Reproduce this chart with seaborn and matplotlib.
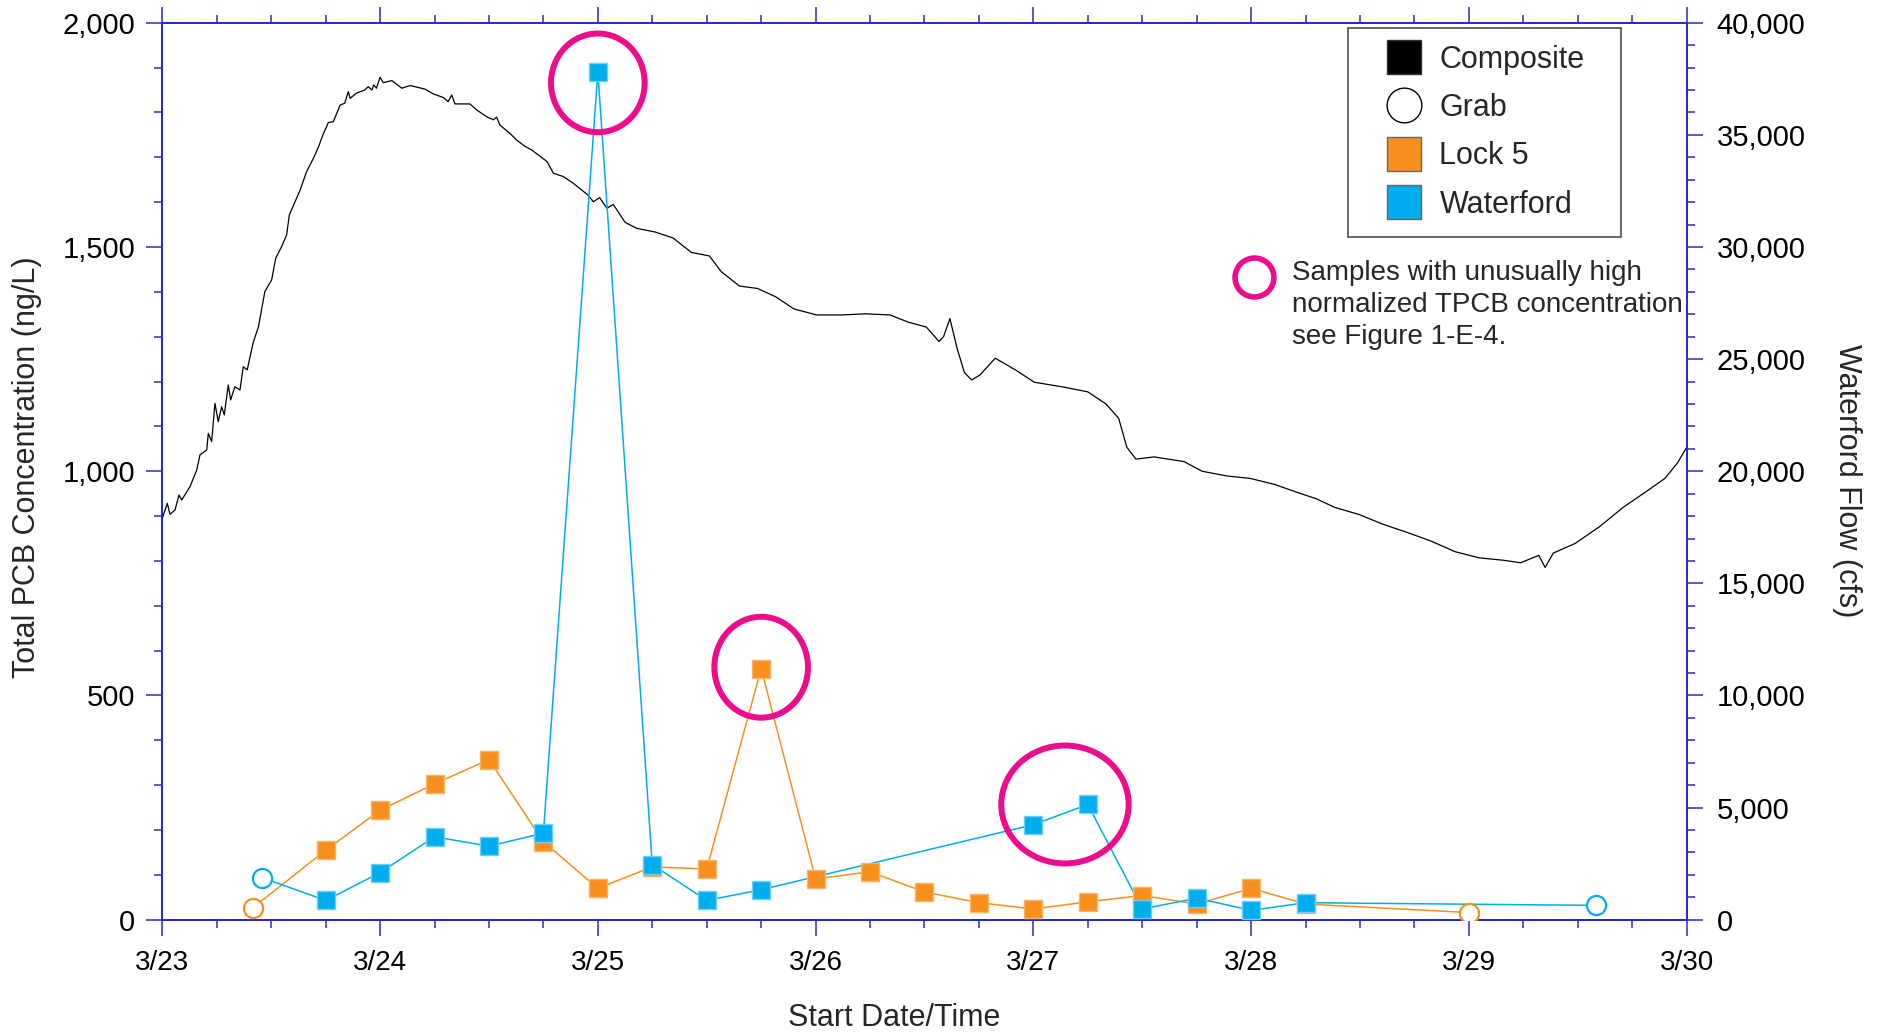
import numpy as np
import pandas as pd
import matplotlib
matplotlib.use("Agg")
import matplotlib.pyplot as plt
import matplotlib.dates as mdates
from matplotlib.patches import Ellipse
from matplotlib.lines import Line2D
from matplotlib.ticker import MultipleLocator, StrMethodFormatter, FuncFormatter
import seaborn as sns

# ---------------- data ----------------
flow_hours = [0.0, 0.55, 0.85, 1.4, 1.84, 2.14, 3.05, 3.8, 4.15, 4.9, 5.07, 5.44, 5.8, 6.17,
              6.54, 6.83, 7.27, 7.53, 8.0, 8.56, 8.92, 9.36, 10.0, 10.6, 11.3, 12.05, 12.5,
              13.15, 13.7, 14.0, 14.4, 15.2, 15.9, 16.66, 17.2, 17.7, 18.3, 18.85, 19.6,
              20.1, 20.5, 20.7, 21.4, 22.3, 22.7, 23.1, 23.3, 23.6, 24.0, 24.35, 25.3, 26.4,
              27.3, 27.85, 28.95, 29.85, 31.0, 31.5, 31.9, 32.25, 33.9, 34.65, 35.75, 36.5,
              36.85, 37.2, 38.3, 39.05, 40.0, 40.7, 42.4, 43.1, 44.2, 45.3, 46.9, 47.5, 48.2,
              49.0, 49.7, 51.0, 52.3, 54.3, 56.3, 58.3, 60.3, 61.6, 63.6, 65.6, 67.6, 69.6,
              72.1, 74.9, 77.5, 80.2, 82.2, 84.2, 85.6, 86.1, 86.8, 87.6, 88.4, 89.2, 90.1,
              91.8, 94.1, 96.1, 99.4, 102.0, 104.0, 105.4, 106.3, 107.3, 109.3, 112.6, 114.6,
              117.3, 119.9, 122.6, 125.2, 127.2, 129.2, 131.9, 134.5, 137.2, 139.8, 142.5,
              145.1, 147.8, 149.7, 151.7, 152.4, 153.3, 155.7, 158.4, 161.0, 163.7, 165.6,
              167.0, 168.0]
flow_cfs = [17900, 18570, 18080, 18270, 18940, 18720, 19310, 20060, 20730, 20950, 21690, 21320,
            23030, 22210, 22880, 22510, 23850, 23180, 23770, 23620, 24660, 24520, 25710, 26450,
            28010, 28530, 29500, 30020, 30540, 31430, 31800, 32550, 33360, 33960, 34450, 35000,
            35550, 35590, 36330, 36410, 36930, 36630, 36860, 37000, 37150, 37000, 37230, 37080,
            37570, 37330, 37420, 37080, 37200, 37150, 37040, 36830, 36660, 36480, 36780, 36380,
            36380, 36110, 35810, 35670, 35790, 35440, 35070, 34770, 34480, 34330, 33810, 33290,
            33140, 32840, 32320, 32020, 32200, 31730, 31900, 31100, 30830, 30670, 30400, 29760,
            29600, 28900, 28260, 28150, 27780, 27240, 26970, 26970, 27020, 26970, 26650, 26430,
            25790, 26000, 26810, 25470, 24400, 24070, 24290, 25040, 24500, 23970, 23750, 23540,
            23000, 22360, 21070, 20540, 20640, 20430, 20000, 19790, 19680, 19410, 19040, 18770,
            18390, 18070, 17640, 17270, 16890, 16410, 16140, 16030, 15920, 16250, 15710, 16350,
            16780, 17530, 18390, 19140, 19680, 20380, 21070]

lock5_time = ["2009-03-23 10:00", "2009-03-23 18:00", "2009-03-24 00:00", "2009-03-24 06:00",
              "2009-03-24 12:00", "2009-03-24 18:00", "2009-03-25 00:00", "2009-03-25 06:00",
              "2009-03-25 12:00", "2009-03-25 18:00", "2009-03-26 00:00", "2009-03-26 06:00",
              "2009-03-26 12:00", "2009-03-26 18:00", "2009-03-27 00:00", "2009-03-27 06:00",
              "2009-03-27 12:00", "2009-03-27 18:00", "2009-03-28 00:00", "2009-03-28 06:00",
              "2009-03-29 00:00"]
lock5_tpcb = [27, 155, 244, 303, 357, 174, 70, 118, 113, 560, 91, 107, 62, 38, 24, 40, 54, 35,
              70, 35, 16]
lock5_type = ["Grab"] + ["Composite"] * 19 + ["Grab"]

waterford_time = ["2009-03-23 11:00", "2009-03-23 18:00", "2009-03-24 00:00", "2009-03-24 06:00",
                  "2009-03-24 12:00", "2009-03-24 18:00", "2009-03-25 00:00", "2009-03-25 06:00",
                  "2009-03-25 12:00", "2009-03-25 18:00", "2009-03-27 00:00", "2009-03-27 06:00",
                  "2009-03-27 12:00", "2009-03-27 18:00", "2009-03-28 00:00", "2009-03-28 06:00",
                  "2009-03-29 14:00"]
waterford_tpcb = [94, 43, 105, 185, 164, 193, 1890, 123, 43, 67, 212, 257, 24, 48, 21, 38, 32]
waterford_type = ["Grab"] + ["Composite"] * 15 + ["Grab"]

x_tick_labels = ["3/23", "3/24", "3/25", "3/26", "3/27", "3/28", "3/29", "3/30"]

# ---------------- style ----------------
sns.set_theme(style="white")
plt.rcParams["font.family"] = ["Liberation Sans", "DejaVu Sans"]
plt.rcParams["axes.unicode_minus"] = False

AXC = "#2a2ad0"
ORANGE = "#F7901E"
BLUE = "#00AEEF"
MAGENTA = "#EC0C8C"
FS = 20
FSL = 22

base = pd.Timestamp("2009-03-23")
flow_df = pd.DataFrame({"time": base + pd.to_timedelta(flow_hours, unit="h"), "flow": flow_cfs})
lock5 = pd.DataFrame({"time": pd.to_datetime(lock5_time), "tpcb": lock5_tpcb, "type": lock5_type})
wat = pd.DataFrame({"time": pd.to_datetime(waterford_time), "tpcb": waterford_tpcb,
                    "type": waterford_type})

fig = plt.figure(figsize=(18.85, 10.34), dpi=100)
ax = fig.add_axes([0.0861, 0.1105, 0.8087, 0.8675])
ax2 = ax.twinx()
ax.set_zorder(ax2.get_zorder() + 1)
ax.patch.set_visible(False)

# flow on right axis
sns.lineplot(data=flow_df, x="time", y="flow", ax=ax2, color="black", lw=0.9,
             estimator=None, sort=False)

# sample series
for df, col, edge in [(lock5, ORANGE, "#FBB56A"), (wat, BLUE, "#6FD0F5")]:
    sns.lineplot(data=df, x="time", y="tpcb", ax=ax, color=col, lw=1.1,
                 estimator=None, sort=False)
    comp = df[df["type"] == "Composite"]
    grab = df[df["type"] == "Grab"]
    sns.scatterplot(data=comp, x="time", y="tpcb", ax=ax, marker="s", s=150, color=col,
                    edgecolor=edge, linewidth=1.0, zorder=5)
    sns.scatterplot(data=grab, x="time", y="tpcb", ax=ax, marker="o", s=190,
                    facecolor="white", edgecolor=col, linewidth=1.6, zorder=5)

# highlight circles (annotation marks centered on the flagged samples)
t_w = wat["time"].tolist()
t_l = lock5["time"].tolist()
hl = [
    (mdates.date2num(t_w[6]), 1866, 0.43, 220),
    (mdates.date2num(t_l[9]), 563, 0.43, 225),
    ((mdates.date2num(t_w[10]) + mdates.date2num(t_w[11])) / 2 + 0.02, 257, 0.585, 263),
]
for cx, cy, w, h in hl:
    ax.add_patch(Ellipse((cx, cy), w, h, fill=False, ec=MAGENTA, lw=4.3, zorder=6))

# axes limits & ticks
ax.set_xlim(mdates.date2num(base), mdates.date2num(base + pd.Timedelta(days=7)))
ax.set_ylim(0, 2000)
ax2.set_ylim(0, 40000)

ax.xaxis.set_major_locator(mdates.DayLocator())
ax.xaxis.set_minor_locator(mdates.HourLocator(byhour=[6, 12, 18]))
ax.xaxis.set_major_formatter(FuncFormatter(
    lambda v, p: x_tick_labels[p] if p is not None and p < len(x_tick_labels)
    else f"{mdates.num2date(v).month}/{mdates.num2date(v).day}"))
ax.yaxis.set_major_locator(MultipleLocator(500))
ax.yaxis.set_minor_locator(MultipleLocator(100))
ax.yaxis.set_major_formatter(StrMethodFormatter("{x:,.0f}"))
ax2.yaxis.set_major_locator(MultipleLocator(5000))
ax2.yaxis.set_minor_locator(MultipleLocator(1000))
ax2.yaxis.set_major_formatter(StrMethodFormatter("{x:,.0f}"))

for a in (ax, ax2):
    for s in a.spines.values():
        s.set_color(AXC)
        s.set_linewidth(1.4)
        s.set_visible(True)

ax.tick_params(axis="x", which="both", direction="out", top=True, bottom=True,
               colors=AXC, labelcolor="black", labelsize=FS, pad=10)
ax.tick_params(axis="x", which="major", length=11.5, width=1.1)
ax.tick_params(axis="x", which="minor", length=5.8, width=1.1)
ax.tick_params(axis="y", which="both", direction="out", left=True, right=False,
               colors=AXC, labelcolor="black", labelsize=FS + 1, pad=8)
ax.tick_params(axis="y", which="major", length=11.5, width=1.1)
ax.tick_params(axis="y", which="minor", length=5.8, width=1.1)
ax2.tick_params(axis="y", which="both", direction="out", right=True, left=False,
                colors=AXC, labelcolor="black", labelsize=FS + 1, pad=10)
ax2.tick_params(axis="y", which="major", length=11.5, width=1.1)
ax2.tick_params(axis="y", which="minor", length=5.8, width=1.1)
ax.grid(False)
ax2.grid(False)

ax.set_xlabel("Start Date/Time", fontsize=FSL, va="center")
ax.xaxis.set_label_coords(0.48, -0.11)
ax.set_ylabel("Total PCB Concentration (ng/L)", fontsize=FSL, va="center")
ax.yaxis.set_label_coords(-0.089, 0.505)
ax2.set_ylabel("Waterford Flow (cfs)", fontsize=FSL, rotation=270, va="center", ha="center")
ax2.yaxis.set_label_coords(1.105, 0.49)

# legend
handles = [
    Line2D([], [], ls="none", marker="s", ms=25, mfc="black", mec="#333333", mew=1.0),
    Line2D([], [], ls="none", marker="o", ms=25, mfc="white", mec="black", mew=1.0),
    Line2D([], [], ls="none", marker="s", ms=25, mfc=ORANGE, mec="#666666", mew=1.0),
    Line2D([], [], ls="none", marker="s", ms=25, mfc=BLUE, mec="#666666", mew=1.0),
]
leg = ax.legend(handles, ["Composite", "Grab", "Lock 5", "Waterford"],
                loc="upper left", bbox_to_anchor=(0.715, 0.973, 0.145, 0.0),
                bbox_transform=fig.transFigure, mode="expand",
                fontsize=FSL, frameon=True, fancybox=False, borderpad=0.55,
                labelspacing=0.6, handletextpad=-0.1, handlelength=2.55, borderaxespad=0)
leg.get_frame().set_edgecolor("#222222")
leg.get_frame().set_linewidth(1.2)

# note
ax.plot([0.716], [0.716], transform=ax.transAxes, marker="o", ms=28, mfc="none",
        mec=MAGENTA, mew=4.0, clip_on=False, ls="none")
ax.text(0.741, 0.735, "Samples with unusually high\nnormalized TPCB concentration\nsee Figure 1-E-4.",
        transform=ax.transAxes, fontsize=FS, va="top", ha="left",
        linespacing=1.3, clip_on=False, zorder=10)

fig.savefig("out.png", dpi=100)
